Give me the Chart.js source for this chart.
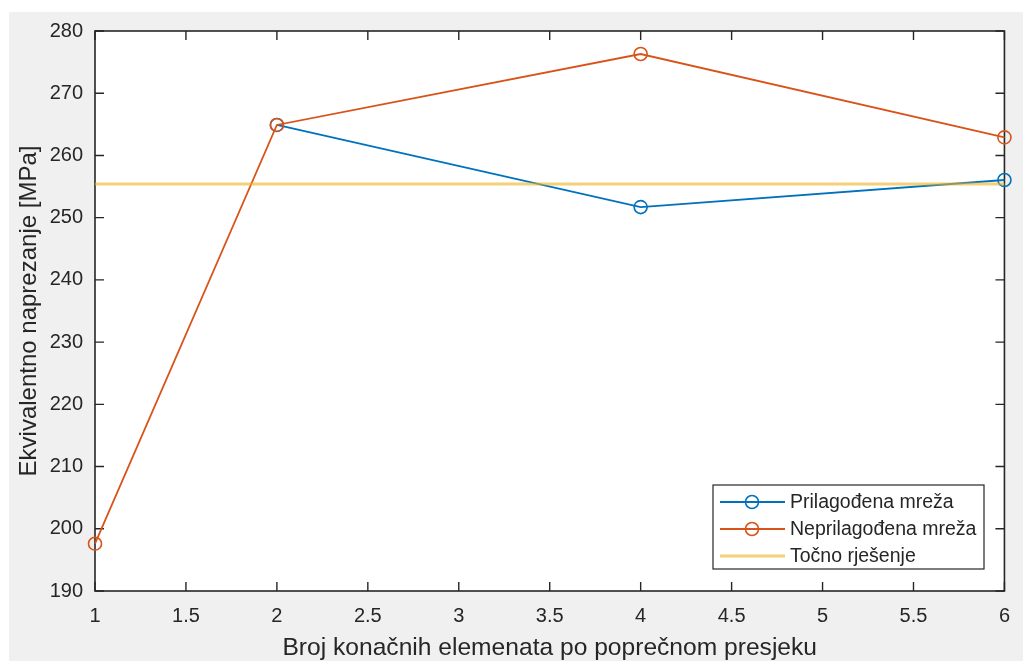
<!DOCTYPE html>
<html>
<head>
<meta charset="utf-8">
<script src="https://cdn.jsdelivr.net/npm/chart.js@4/dist/chart.umd.min.js"></script>
<style>
  html, body { margin: 0; padding: 0; background: #ffffff; }
  #wrap { position: absolute; left: 0; top: 0; width: 1023px; height: 661px; }
</style>
</head>
<body>
<div id="wrap"><canvas id="c" width="1023" height="661"></canvas></div>
<script>
// ---- data ----
const xLabel = 'Broj konačnih elemenata po poprečnom presjeku';
const yLabel = 'Ekvivalentno naprezanje [MPa]';
const seriesNames = ['Prilagođena mreža', 'Neprilagođena mreža', 'Točno rješenje'];
const adaptedX = [2, 4, 6];
const adaptedY = [264.9, 251.7, 256.05];
const unadaptedX = [1, 2, 4, 6];
const unadaptedY = [197.6, 264.9, 276.3, 262.9];
const exactX = [1, 6];
const exactY = [255.4, 255.4];
const xTickValues = [1, 1.5, 2, 2.5, 3, 3.5, 4, 4.5, 5, 5.5, 6];
const yTickValues = [190, 200, 210, 220, 230, 240, 250, 260, 270, 280];

const FONT = "'Liberation Sans', Arial, Helvetica, sans-serif";
const TXT = '#262626';
const BLUE = '#0072BD', RED = '#D95319', YEL = 'rgba(237,177,32,0.6)';

function pts(xs, ys) { return xs.map((x, i) => ({ x: x, y: ys[i] })); }

const bgPlugin = {
  id: 'bg',
  beforeDraw(chart) {
    const ctx = chart.ctx, a = chart.chartArea;
    ctx.save();
    ctx.fillStyle = '#ffffff';
    ctx.fillRect(0, 0, chart.width, chart.height);
    ctx.fillStyle = '#f0f0f0';
    ctx.fillRect(9, 12, chart.width - 9, chart.height - 12);
    ctx.fillStyle = '#ffffff';
    ctx.fillRect(a.left, a.top, a.right - a.left, a.bottom - a.top);
    ctx.restore();
  },
  beforeDatasetsDraw(chart) {
    const ctx = chart.ctx, a = chart.chartArea;
    const xs = chart.scales.x, ys = chart.scales.y;
    const L = 9;
    ctx.save();
    ctx.strokeStyle = TXT;
    ctx.lineWidth = 1.4;
    ctx.beginPath();
    xs.ticks.forEach(t => {
      const px = xs.getPixelForValue(t.value);
      ctx.moveTo(px, a.bottom); ctx.lineTo(px, a.bottom - L);
      ctx.moveTo(px, a.top); ctx.lineTo(px, a.top + L);
    });
    ys.ticks.forEach(t => {
      const py = ys.getPixelForValue(t.value);
      ctx.moveTo(a.left, py); ctx.lineTo(a.left + L, py);
      ctx.moveTo(a.right, py); ctx.lineTo(a.right - L, py);
    });
    ctx.stroke();
    ctx.lineWidth = 1.6;
    ctx.strokeRect(a.left, a.top, a.right - a.left, a.bottom - a.top);
    ctx.restore();
  }
};

const legendPlugin = {
  id: 'boxLegend',
  afterDraw(chart) {
    const ctx = chart.ctx;
    const bx = 713, by = 485, bw = 271, bh = 84;
    const rows = [502, 529, 556];
    ctx.save();
    ctx.fillStyle = '#ffffff';
    ctx.fillRect(bx, by, bw, bh);
    ctx.strokeStyle = TXT;
    ctx.lineWidth = 1.2;
    ctx.strokeRect(bx, by, bw, bh);
    chart.data.datasets.forEach((ds, i) => {
      const y = rows[i];
      ctx.strokeStyle = ds.borderColor;
      ctx.lineWidth = ds.borderWidth;
      ctx.beginPath();
      ctx.moveTo(720, y); ctx.lineTo(785, y);
      ctx.stroke();
      if (ds.pointRadius > 0) {
        ctx.strokeStyle = ds.pointBorderColor;
        ctx.lineWidth = ds.pointBorderWidth;
        ctx.beginPath();
        ctx.arc(752, y, ds.pointRadius, 0, Math.PI * 2);
        ctx.stroke();
      }
      ctx.fillStyle = TXT;
      ctx.font = '19.5px ' + FONT;
      ctx.textBaseline = 'middle';
      ctx.textAlign = 'left';
      ctx.fillText(ds.label, 790, y + 1);
    });
    ctx.restore();
  }
};

new Chart(document.getElementById('c'), {
  type: 'line',
  data: {
    datasets: [
      { label: seriesNames[0], data: pts(adaptedX, adaptedY), borderColor: BLUE, borderWidth: 1.8,
        pointRadius: 6.5, pointBorderColor: BLUE, pointBorderWidth: 1.6, pointBackgroundColor: 'rgba(0,0,0,0)',
        pointStyle: 'circle', fill: false, tension: 0, clip: false, order: 3 },
      { label: seriesNames[1], data: pts(unadaptedX, unadaptedY), borderColor: RED, borderWidth: 1.8,
        pointRadius: 6.5, pointBorderColor: RED, pointBorderWidth: 1.6, pointBackgroundColor: 'rgba(0,0,0,0)',
        pointStyle: 'circle', fill: false, tension: 0, clip: false, order: 2 },
      { label: seriesNames[2], data: pts(exactX, exactY), borderColor: YEL, borderWidth: 3,
        pointRadius: 0, pointBorderColor: YEL, pointBorderWidth: 0,
        fill: false, tension: 0, clip: false, order: 1 }
    ]
  },
  options: {
    responsive: false,
    animation: false,
    devicePixelRatio: 1,
    layout: { padding: { left: 0, top: 31, right: 17, bottom: 0 } },
    plugins: { legend: { display: false }, tooltip: { enabled: false } },
    scales: {
      x: {
        type: 'linear', min: 1, max: 6,
        afterBuildTicks(s) { s.ticks = xTickValues.map(v => ({ value: v })); },
        afterFit(s) { s.height = 70; },
        grid: { display: false, drawTicks: false },
        border: { display: false },
        ticks: { padding: 13, color: TXT, font: { family: FONT, size: 20 }, maxRotation: 0, autoSkip: false,
                 callback: v => String(v) },
        title: { display: true, text: xLabel, color: TXT, font: { family: FONT, size: 24.6, lineHeight: 1 }, padding: 0 }
      },
      y: {
        type: 'linear', min: 190, max: 280,
        afterBuildTicks(s) { s.ticks = yTickValues.map(v => ({ value: v })); },
        afterFit(s) { s.width = 95; },
        grid: { display: false, drawTicks: false },
        border: { display: false },
        ticks: { padding: 12, color: TXT, font: { family: FONT, size: 20 }, autoSkip: false,
                 callback: v => String(v) },
        title: { display: true, text: yLabel, color: TXT, font: { family: FONT, size: 24, lineHeight: 1 }, padding: { top: 17, bottom: 0 } }
      }
    }
  },
  plugins: [bgPlugin, legendPlugin]
});
</script>
</body>
</html>
